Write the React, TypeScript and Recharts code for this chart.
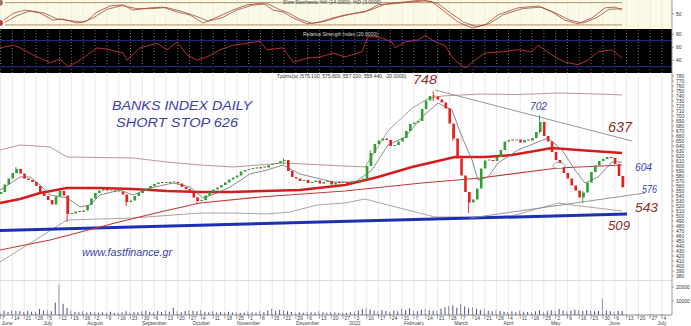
import React from "react"
import { ComposedChart, Line, Bar, Cell, XAxis, YAxis, ReferenceLine } from "recharts"

// x axis is in weeks, week 0 = Monday 5 July 2021
const T0 = -4.05
const T1 = 52.85
const W = 691
const AXIS_W = 19

const weekTicks = [-4, -3, -2, -1, 0, 1, 2, 3, 4, 5, 6, 7, 8, 9, 10, 11, 12, 13, 14, 15, 16, 17, 18, 19, 20, 21, 22, 23, 24, 25, 26, 27, 28, 29, 30, 31, 32, 33, 34, 35, 36, 37, 38, 39, 40, 41, 42, 43, 44, 45, 46, 47, 48, 49, 50, 51, 52]
const weekDays = ["7", "14", "21", "28", "5", "12", "19", "26", "2", "9", "16", "23", "30", "6", "13", "20", "27", "4", "11", "18", "25", "1", "8", "15", "22", "29", "6", "13", "20", "27", "3", "10", "17", "24", "31", "7", "14", "21", "28", "7", "14", "21", "28", "4", "11", "18", "25", "2", "9", "16", "23", "30", "6", "13", "20", "27", "4"]
const monthWeeks = [-4, 0, 4, 9, 13, 17, 22, 26, 31, 35, 39, 43, 48, 52]
const monthNames = ["June", "July", "August", "September", "October", "November", "December", "2022", "February", "March", "April", "May", "June", "July"]

const priceTicks = [380, 390, 400, 410, 420, 430, 440, 450, 460, 470, 480, 490, 500, 510, 520, 530, 540, 550, 560, 570, 580, 590, 600, 610, 620, 630, 640, 650, 660, 670, 680, 690, 700, 710, 720, 730, 740, 750, 760, 770, 780]
const rsiTicks = [30, 40, 50, 60, 70, 80]
const volTicks = [5000, 10000, 15000, 20000]

// three candles per week, starting at week -4
const candleStart = -4
const candlesPerWeek = 3
const firstOpen = 544
const closes = [
  548, 563, 575, 586, 594, 585, 575, 572, 568, 560,
  548, 540, 532, 523, 539, 550, 541, 504, 505, 509,
  508, 511, 522, 535, 546, 551, 554, 551, 551, 549,
  549, 543, 528, 531, 540, 546, 550, 555, 560, 564,
  567, 566, 566, 567, 568, 565, 558, 554, 546, 537,
  530, 532, 541, 548, 553, 557, 562, 567, 573, 577,
  581, 589, 592, 594, 596, 595, 598, 597, 602, 604,
  606, 610, 612, 590, 578, 575, 570, 572, 566, 568,
  571, 565, 568, 570, 563, 567, 566, 568, 566, 569,
  568, 571, 575, 600, 626, 644, 651, 655, 652, 640,
  642, 649, 656, 670, 684, 687, 690, 714, 731, 740,
  739, 733, 727, 715, 685, 655, 615, 581, 548, 527,
  533, 555, 595, 611, 611, 610, 618, 632, 649, 652,
  651, 653, 647, 652, 651, 656, 668, 688, 660, 649,
  628, 612, 598, 586, 575, 561, 551, 537, 547, 567,
  588, 601, 610, 614, 618, 616, 604, 580, 558,
]
const volumes = [
  2500, 3000, 2200, 3400, 2800, 2600, 2000, 3000, 2400, 2200,
  4200, 3000, 3800, 2600, 9000, 22000, 8000, 5000, 3200, 2400,
  2000, 2600, 1800, 2200, 2400, 1600, 2000, 1800, 2400, 1500,
  2000, 1800, 2600, 1800, 2200, 2000, 2600, 3000, 2400, 2000,
  2800, 2200, 3200, 2400, 5200, 2600, 2000, 2800, 3400, 3000,
  2600, 3600, 2400, 2000, 2600, 1800, 2200, 2000, 2400, 1800,
  2000, 1600, 1800, 2600, 2000, 1800, 2800, 2200, 3200, 4600,
  3000, 3800, 3400, 2600, 2200, 1800, 2000, 1600, 2400, 2000,
  1800, 2600, 2000, 1600, 2200, 1800, 1400, 1800, 1600, 2000,
  2400, 3200, 4200, 5200, 4000, 3200, 2600, 3600, 2800, 2400,
  3200, 2600, 4400, 3600, 4800, 3000, 2600, 3800, 4200, 3400,
  3000, 2800, 4600, 5600, 6400, 7000, 5200, 7600, 6000, 4800,
  5400, 4400, 3600, 4200, 3000, 2600, 3800, 2800, 2400, 2200,
  2600, 2000, 3000, 2400, 2200, 2000, 2600, 3200, 2400, 2800,
  3400, 2800, 4200, 3200, 2600, 3000, 3800, 3400, 2800, 3600,
  3000, 2600, 2800, 12000, 3200, 2600, 2400, 3000, 2800,
]
// the wicks that stand out in the picture (candle number, low, high)
const wickCandle = [4, 17, 32, 50, 72, 94, 110, 115, 119, 137, 148, 158]
const wickLow = [585, 488, 520, 524, 604, 600, 730, 650, 506, 665, 526, 556]
const wickHigh = [598, 540, 540, 538, 616, 632, 750, 675, 545, 702, 550, 580]

// indicator lines (week, value)
const maFast = [
  { t: -4.05, p: 552 }, { t: -2.35, p: 578 }, { t: -1.5, p: 578 }, { t: -0.66, p: 562 }, { t: 0.19, p: 542 },
  { t: 1.63, p: 536 }, { t: 2.73, p: 518 }, { t: 3.57, p: 522 }, { t: 4.42, p: 542 }, { t: 6.11, p: 552 },
  { t: 7.21, p: 542 }, { t: 8.65, p: 556 }, { t: 10.6, p: 566 }, { t: 12.04, p: 558 }, { t: 13.14, p: 536 },
  { t: 14.33, p: 546 }, { t: 15.43, p: 558 }, { t: 17.12, p: 584 }, { t: 18.56, p: 592 }, { t: 19.91, p: 602 },
  { t: 21.35, p: 584 }, { t: 24.15, p: 568 }, { t: 26.01, p: 568 }, { t: 27.45, p: 592 }, { t: 28.8, p: 642 },
  { t: 30.25, p: 658 }, { t: 31.68, p: 698 }, { t: 33.04, p: 726 }, { t: 34.22, p: 712 }, { t: 35.07, p: 658 },
  { t: 35.92, p: 612 }, { t: 36.43, p: 572 }, { t: 37.27, p: 578 }, { t: 38.12, p: 606 }, { t: 39.81, p: 632 },
  { t: 41.5, p: 648 }, { t: 42.35, p: 656 }, { t: 43.54, p: 632 }, { t: 44.64, p: 592 }, { t: 45.48, p: 566 },
  { t: 46.59, p: 578 }, { t: 47.77, p: 608 }, { t: 48.62, p: 608 },
]
const maMid = [
  { t: -4.05, p: 526 }, { t: -2.35, p: 534 }, { t: -0.66, p: 546 }, { t: 1.63, p: 556 }, { t: 4.42, p: 556 },
  { t: 7.21, p: 554 }, { t: 10.09, p: 550 }, { t: 12.89, p: 548 }, { t: 15.43, p: 548 }, { t: 21.35, p: 552 },
  { t: 25.16, p: 562 }, { t: 27.96, p: 578 }, { t: 30.84, p: 598 }, { t: 34.48, p: 618 }, { t: 37.02, p: 618 },
  { t: 39.3, p: 622 }, { t: 42.69, p: 636 }, { t: 44.89, p: 632 }, { t: 48.62, p: 626 },
]
const maSlow = [
  { t: -4.05, p: 432 }, { t: 0.19, p: 452 }, { t: 5.69, p: 486 }, { t: 9.5, p: 508 }, { t: 12.89, p: 526 },
  { t: 17.97, p: 538 }, { t: 25.16, p: 550 }, { t: 31.68, p: 566 }, { t: 36.6, p: 576 }, { t: 43.2, p: 596 },
  { t: 48.62, p: 602 },
]
const bandUpper = [
  { t: -4.05, p: 632 }, { t: -2.35, p: 642 }, { t: 0.19, p: 638 }, { t: 1.63, p: 618 }, { t: 7.21, p: 616 },
  { t: 10.09, p: 608 }, { t: 12.89, p: 602 }, { t: 15.68, p: 598 }, { t: 19.91, p: 606 }, { t: 25.16, p: 600 },
  { t: 26.86, p: 598 }, { t: 28.8, p: 670 }, { t: 30.8, p: 715 }, { t: 32.2, p: 735 }, { t: 33.4, p: 740 },
  { t: 36.6, p: 744 }, { t: 39.8, p: 743 }, { t: 43.2, p: 746 }, { t: 46.6, p: 744 }, { t: 48.62, p: 742 },
]
const bandLower = [
  { t: -4.05, p: 408 }, { t: 1.63, p: 492 }, { t: 7.21, p: 496 }, { t: 12.89, p: 506 }, { t: 15.68, p: 506 },
  { t: 18.56, p: 504 }, { t: 20.51, p: 508 }, { t: 22.79, p: 522 }, { t: 25.16, p: 526 }, { t: 26.86, p: 534 },
  { t: 28.8, p: 522 }, { t: 32.78, p: 498 }, { t: 34.48, p: 498 }, { t: 36.43, p: 496 }, { t: 39.3, p: 500 },
  { t: 43.2, p: 526 }, { t: 44.39, p: 522 }, { t: 48.62, p: 510 },
]
const supportLine = [{ t: -4.05, p: 471 }, { t: 49.04, p: 504 }]
const resistanceLine = [{ t: 32.78, p: 752 }, { t: 49.47, p: 650 }]
const risingLine = [{ t: 35.75, p: 496 }, { t: 50.57, p: 546 }]

const stochK = [
  { t: -4.05, v: 25 }, { t: -2.9, v: 52 }, { t: -1.9, v: 60 }, { t: -0.66, v: 52 }, { t: 0.44, v: 33 },
  { t: 1.29, v: 36 }, { t: 2.47, v: 25 }, { t: 3.32, v: 31 }, { t: 4.17, v: 55 }, { t: 5.27, v: 71 },
  { t: 6.37, v: 74 }, { t: 7.21, v: 60 }, { t: 8.65, v: 66 }, { t: 9.75, v: 68 }, { t: 10.94, v: 55 },
  { t: 12.04, v: 47 }, { t: 13.14, v: 25 }, { t: 14.33, v: 41 }, { t: 15.68, v: 60 }, { t: 16.87, v: 74 },
  { t: 18.22, v: 79 }, { t: 19.07, v: 60 }, { t: 19.91, v: 55 }, { t: 20.76, v: 39 }, { t: 21.95, v: 23 },
  { t: 23.05, v: 28 }, { t: 24.15, v: 39 }, { t: 25.16, v: 47 }, { t: 26.86, v: 55 }, { t: 27.96, v: 74 },
  { t: 29.4, v: 79 }, { t: 31.68, v: 87 }, { t: 32.53, v: 82 }, { t: 33.63, v: 55 }, { t: 34.73, v: 28 },
  { t: 35.92, v: 12 }, { t: 37.02, v: 20 }, { t: 38.12, v: 47 }, { t: 39.81, v: 66 }, { t: 41.5, v: 71 },
  { t: 42.69, v: 55 }, { t: 43.79, v: 33 }, { t: 44.89, v: 23 }, { t: 46.08, v: 39 }, { t: 47.18, v: 66 },
  { t: 48.03, v: 68 }, { t: 48.62, v: 60 },
]
const stochD = [
  { t: -4.05, v: 20 }, { t: -2.6, v: 45 }, { t: -1.5, v: 58 }, { t: -0.3, v: 52 }, { t: 0.8, v: 36 },
  { t: 2.0, v: 31 }, { t: 3.0, v: 27 }, { t: 3.9, v: 40 }, { t: 5.0, v: 62 }, { t: 6.3, v: 72 },
  { t: 7.5, v: 64 }, { t: 8.9, v: 64 }, { t: 10.0, v: 67 }, { t: 11.3, v: 57 }, { t: 12.5, v: 44 },
  { t: 13.6, v: 30 }, { t: 14.8, v: 40 }, { t: 16.0, v: 60 }, { t: 17.3, v: 73 }, { t: 18.6, v: 77 },
  { t: 19.5, v: 63 }, { t: 20.4, v: 52 }, { t: 21.3, v: 36 }, { t: 22.4, v: 24 }, { t: 23.5, v: 30 },
  { t: 24.6, v: 41 }, { t: 25.8, v: 50 }, { t: 27.3, v: 60 }, { t: 28.5, v: 75 }, { t: 30.2, v: 80 },
  { t: 32.0, v: 85 }, { t: 33.0, v: 78 }, { t: 34.1, v: 52 }, { t: 35.2, v: 28 }, { t: 36.3, v: 15 },
  { t: 37.4, v: 24 }, { t: 38.6, v: 48 }, { t: 40.2, v: 64 }, { t: 41.8, v: 68 }, { t: 43.0, v: 52 },
  { t: 44.2, v: 33 }, { t: 45.3, v: 25 }, { t: 46.5, v: 40 }, { t: 47.5, v: 62 }, { t: 48.62, v: 64 },
]
const stochHigh = [{ t: -4.05, v: 80 }, { t: 48.62, v: 80 }]
const stochLow = [{ t: -4.05, v: 20 }, { t: 48.62, v: 20 }]

const rsi = [
  { t: -4.05, v: 59 }, { t: -2.9, v: 63 }, { t: -2.35, v: 59 }, { t: -1.25, v: 48 }, { t: 0.19, v: 36 },
  { t: 1.03, v: 42 }, { t: 1.71, v: 30 }, { t: 2.73, v: 40 }, { t: 3.57, v: 51 }, { t: 4.17, v: 59 },
  { t: 5.27, v: 56 }, { t: 6.37, v: 51 }, { t: 6.7, v: 40 }, { t: 7.8, v: 59 }, { t: 9.24, v: 66 },
  { t: 10.09, v: 56 }, { t: 10.94, v: 68 }, { t: 11.79, v: 48 }, { t: 12.63, v: 40 }, { t: 13.48, v: 45 },
  { t: 14.58, v: 56 }, { t: 15.68, v: 63 }, { t: 16.87, v: 66 }, { t: 17.97, v: 69 }, { t: 18.56, v: 56 },
  { t: 19.91, v: 59 }, { t: 20.76, v: 37 }, { t: 21.95, v: 43 }, { t: 23.05, v: 45 }, { t: 24.15, v: 51 },
  { t: 25.16, v: 45 }, { t: 26.6, v: 53 }, { t: 27.11, v: 76 }, { t: 27.96, v: 76 }, { t: 29.14, v: 68 },
  { t: 29.4, v: 59 }, { t: 30.25, v: 68 }, { t: 31.35, v: 71 }, { t: 31.94, v: 78 }, { t: 32.78, v: 68 },
  { t: 33.63, v: 63 }, { t: 34.22, v: 45 }, { t: 34.73, v: 36 }, { t: 35.32, v: 28 }, { t: 35.92, v: 37 },
  { t: 37.02, v: 51 }, { t: 38.46, v: 53 }, { t: 39.81, v: 56 }, { t: 41.0, v: 53 }, { t: 41.5, v: 63 },
  { t: 42.69, v: 48 }, { t: 43.79, v: 37 }, { t: 44.89, v: 33 }, { t: 45.73, v: 40 }, { t: 46.59, v: 53 },
  { t: 47.77, v: 56 }, { t: 48.62, v: 43 },
]

const GREEN = "#2f9e36"
const RED = "#e3211c"
const INK = "#3b3fa6"
const BROWN = "#8c2f2c"

// candle body = hidden base up to the lower of open/close, then the visible body stacked on it
const candles = closes.map((c, i) => {
  const open = i === 0 ? firstOpen : closes[i - 1]
  return {
    t: candleStart + i / candlesPerWeek,
    base: Math.min(open, c),
    size: Math.abs(c - open),
    up: c >= open,
    vol: volumes[i],
  }
})
const wicks = wickCandle.map((n, k) => ({
  t: candleStart + n / candlesPerWeek,
  low: wickLow[k],
  span: wickHigh[k] - wickLow[k],
  up: candles[n].up,
}))

function DateTick(props: any) {
  const { x, y, payload } = props
  const i = weekTicks.indexOf(payload.value)
  const m = monthWeeks.indexOf(payload.value)
  return (
    <g>
      <line x1={x} x2={x} y1={y - 1} y2={y + 4} stroke="#777" strokeWidth={0.7} />
      <text x={x + 1.5} y={y + 5} fontSize={5} fill="#444">{weekDays[i]}</text>
      {m >= 0 && (
        <text x={i === 0 ? x + 1 : x} y={y + 10} fontSize={5} fill="#444" textAnchor={i === 0 ? "start" : "middle"}>
          {monthNames[m]}
        </text>
      )}
    </g>
  )
}

// x axis kept "visible" (bars need its ticks) but drawn with nothing
function quietXAxis() {
  return <XAxis type="number" dataKey="t" domain={[T0, T1]} ticks={weekTicks} height={10} tick={false} axisLine={false} tickLine={false} allowDataOverflow />
}
function quietPriceAxis() {
  return <YAxis orientation="right" width={AXIS_W} domain={[372, 786]} tick={false} axisLine={false} tickLine={false} allowDataOverflow />
}

function weekLines(stroke: string, dash?: string) {
  return weekTicks.map((w) => (
    <ReferenceLine key={w} x={w} stroke={stroke} strokeWidth={0.8} strokeDasharray={dash} ifOverflow="hidden" />
  ))
}

const tickFont = { fontSize: 5, fill: "#333" }

export default function App() {
  return (
    <div style={{ position: "absolute", left: 0, top: 0, width: W, height: 326, background: "#fff", overflow: "hidden", fontFamily: "Liberation Sans, Arial, sans-serif" }}>
      {/* panel backgrounds */}
      <div style={{ position: "absolute", left: 0, top: 0, width: W - AXIS_W, height: 29, background: "#fbfae6" }} />
      <div style={{ position: "absolute", left: 0, top: 29, width: W - AXIS_W, height: 44, background: "#000" }} />

      {/* stochastic */}
      <div style={{ position: "absolute", left: 0, top: 0 }}>
        <ComposedChart width={W} height={39} margin={{ top: 0, right: 0, bottom: 0, left: 0 }}>
          {quietXAxis()}
          <YAxis orientation="right" width={AXIS_W} domain={[9.1, 87.1]} ticks={[50]} tick={tickFont} tickSize={2} axisLine={{ stroke: "#999" }} tickLine={{ stroke: "#999" }} allowDataOverflow />
          {weekLines("#e2e0cc", "1 1")}
          <Line data={stochHigh} dataKey="v" stroke="#a3764f" strokeWidth={0.8} dot={false} isAnimationActive={false} />
          <Line data={stochLow} dataKey="v" stroke="#a3764f" strokeWidth={0.8} dot={false} isAnimationActive={false} />
          <Line data={stochD} dataKey="v" stroke="#7b5c3c" strokeWidth={0.8} dot={false} isAnimationActive={false} />
          <Line data={stochK} dataKey="v" stroke="#c8352c" strokeWidth={0.8} dot={false} isAnimationActive={false} />
        </ComposedChart>
      </div>

      {/* RSI */}
      <div style={{ position: "absolute", left: 0, top: 29 }}>
        <ComposedChart width={W} height={54} margin={{ top: 0, right: 0, bottom: 0, left: 0 }}>
          {quietXAxis()}
          <YAxis orientation="right" width={AXIS_W} domain={[20.3, 88]} ticks={rsiTicks} tick={tickFont} tickSize={2} axisLine={{ stroke: "#999" }} tickLine={{ stroke: "#999" }} allowDataOverflow />
          {weekLines("#8a8a8a", "1 2")}
          <ReferenceLine y={70} stroke="#2b2f9a" strokeWidth={1} />
          <ReferenceLine y={30} stroke="#2b2f9a" strokeWidth={1} />
          <Line data={rsi} dataKey="v" stroke="#c9372f" strokeWidth={0.9} dot={false} isAnimationActive={false} />
        </ComposedChart>
      </div>

      {/* price: grid and indicator lines */}
      <div style={{ position: "absolute", left: 0, top: 73 }}>
        <ComposedChart width={W} height={217} margin={{ top: 0, right: 0, bottom: 0, left: 0 }}>
          {quietXAxis()}
          <YAxis orientation="right" width={AXIS_W} domain={[372, 786]} ticks={priceTicks} interval={0} tick={tickFont} tickSize={2} axisLine={{ stroke: "#999" }} tickLine={{ stroke: "#999" }} allowDataOverflow />
          {weekLines("#e4e4e4")}
          <Line data={bandUpper} dataKey="p" stroke="#b18b86" strokeWidth={0.9} dot={false} isAnimationActive={false} />
          <Line data={bandLower} dataKey="p" stroke="#a99592" strokeWidth={0.9} dot={false} isAnimationActive={false} />
          <Line data={supportLine} dataKey="p" stroke="#1d2fb3" strokeWidth={3} dot={false} isAnimationActive={false} />
          <Line data={maSlow} dataKey="p" stroke="#c23a35" strokeWidth={1.2} dot={false} isAnimationActive={false} />
          <Line data={maMid} dataKey="p" stroke="#d31d1d" strokeWidth={2.5} dot={false} isAnimationActive={false} />
          <Line data={resistanceLine} dataKey="p" stroke="#8a8a96" strokeWidth={0.9} dot={false} isAnimationActive={false} />
          <Line data={risingLine} dataKey="p" stroke="#8a8a8a" strokeWidth={0.9} dot={false} isAnimationActive={false} />
          <Line data={maFast} dataKey="p" stroke="#6b6b6b" strokeWidth={0.8} dot={false} isAnimationActive={false} />
        </ComposedChart>
      </div>

      {/* price: wicks */}
      <div style={{ position: "absolute", left: 0, top: 73 }}>
        <ComposedChart width={W} height={217} data={wicks} margin={{ top: 0, right: 0, bottom: 0, left: 0 }}>
          {quietXAxis()}
          {quietPriceAxis()}
          <Bar dataKey="low" stackId="wick" barSize={0.9} fill="none" isAnimationActive={false} />
          <Bar dataKey="span" stackId="wick" barSize={0.9} isAnimationActive={false}>
            {wicks.map((d, i) => <Cell key={i} fill={d.up ? GREEN : RED} />)}
          </Bar>
        </ComposedChart>
      </div>

      {/* price: candle bodies */}
      <div style={{ position: "absolute", left: 0, top: 73 }}>
        <ComposedChart width={W} height={217} data={candles} margin={{ top: 0, right: 0, bottom: 0, left: 0 }}>
          {quietXAxis()}
          {quietPriceAxis()}
          <Bar dataKey="base" stackId="candle" barSize={2.6} fill="none" isAnimationActive={false} />
          <Bar dataKey="size" stackId="candle" barSize={2.6} minPointSize={1} isAnimationActive={false}>
            {candles.map((d, i) => <Cell key={i} fill={d.up ? GREEN : RED} />)}
          </Bar>
        </ComposedChart>
      </div>

      {/* volume + date axis */}
      <div style={{ position: "absolute", left: 0, top: 280 }}>
        <ComposedChart width={W} height={46} data={candles} margin={{ top: 0, right: 0, bottom: 0, left: 0 }}>
          <XAxis type="number" dataKey="t" domain={[T0, T1]} ticks={weekTicks} interval={0} height={11} tickSize={0} tickMargin={0} tick={<DateTick />} tickLine={false} axisLine={{ stroke: "#888" }} allowDataOverflow />
          <YAxis orientation="right" width={AXIS_W} domain={[0, 25000]} ticks={volTicks} tick={tickFont} tickSize={2} axisLine={{ stroke: "#999" }} tickLine={{ stroke: "#999" }} allowDataOverflow />
          {weekLines("#e4e4e4")}
          <ReferenceLine y={25000} stroke="#bbb" />
          <Bar dataKey="vol" barSize={1} fill="#4d4f86" isAnimationActive={false} />
        </ComposedChart>
      </div>

      {/* titles and hand-written notes */}
      <svg width={W} height={326} style={{ position: "absolute", left: 0, top: 0, pointerEvents: "none" }}>
        <text x={283} y={4} fontSize={5} fill="#444">Slow Stochastic %K (14.0000), %D (3.0000)</text>
        <text x={303} y={36} fontSize={5} fill="#d8d8d8">Relative Strength Index (20.0000)</text>
        <text x={277} y={78} fontSize={5} fill="#333">Τράπεζες (575.100, 575.800, 557.020, 558.440, -20.0000)</text>
        <text x={112} y={110} fontSize={13} fontStyle="italic" fill={INK} textLength={140} lengthAdjust="spacingAndGlyphs">BANKS INDEX DAILY</text>
        <text x={116} y={127} fontSize={13} fontStyle="italic" fill={INK} textLength={122} lengthAdjust="spacingAndGlyphs">SHORT STOP 626</text>
        <text x={413} y={84} fontSize={13} fontStyle="italic" fill={BROWN} textLength={24} lengthAdjust="spacingAndGlyphs">748</text>
        <text x={530} y={110} fontSize={10} fontStyle="italic" fill={INK} textLength={17} lengthAdjust="spacingAndGlyphs">702</text>
        <text x={608} y={132} fontSize={14} fontStyle="italic" fill={BROWN} textLength={24} lengthAdjust="spacingAndGlyphs">637</text>
        <text x={635} y={171} fontSize={10} fontStyle="italic" fill={INK} textLength={17} lengthAdjust="spacingAndGlyphs">604</text>
        <text x={642} y={193} fontSize={10} fontStyle="italic" fill={INK} textLength={15} lengthAdjust="spacingAndGlyphs">576</text>
        <text x={635} y={212} fontSize={13} fontStyle="italic" fill={BROWN} textLength={23} lengthAdjust="spacingAndGlyphs">543</text>
        <text x={608} y={230} fontSize={13} fontStyle="italic" fill={BROWN} textLength={22} lengthAdjust="spacingAndGlyphs">509</text>
        <text x={82} y={256} fontSize={11} fontStyle="italic" fill={INK} textLength={90} lengthAdjust="spacingAndGlyphs">www.fastfinance.gr</text>
        <ellipse cx={559} cy={165.5} rx={6} ry={3} fill="#fff" stroke="#777" strokeWidth={0.7} />
      </svg>
    </div>
  )
}
